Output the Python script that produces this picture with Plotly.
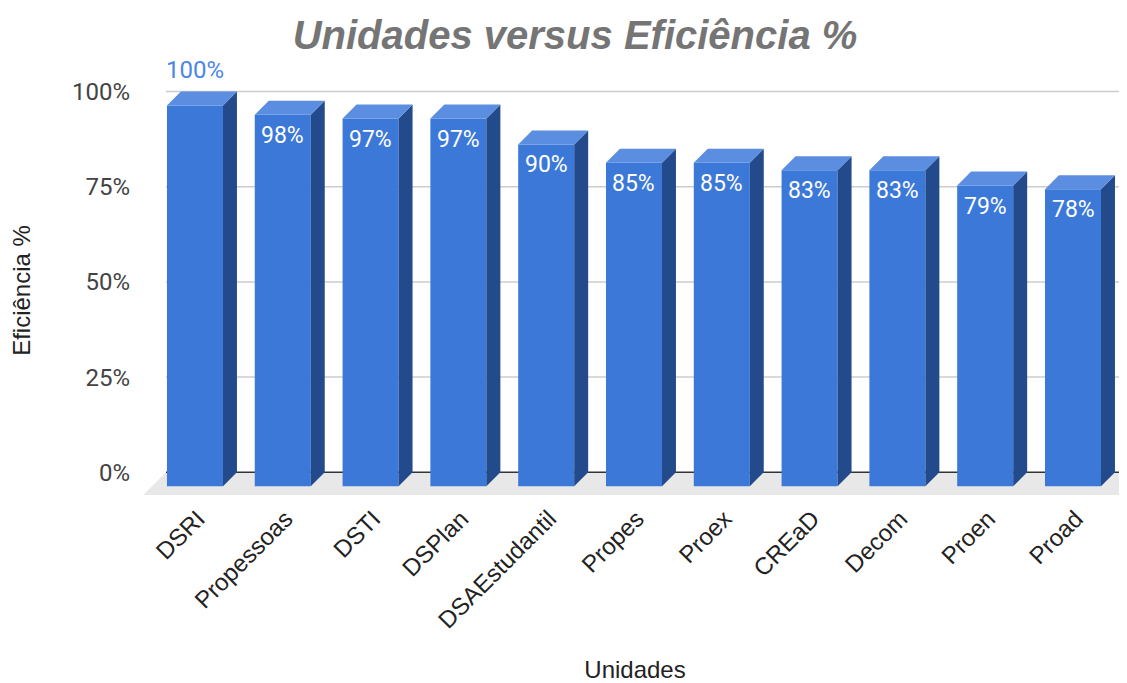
import plotly.graph_objects as go

# ---- data ----
categories = ["DSRI", "Propessoas", "DSTI", "DSPlan", "DSAEstudantil", "Propes",
              "Proex", "CREaD", "Decom", "Proen", "Proad"]
efficiency = [1.00, 0.976, 0.966, 0.966, 0.898, 0.85, 0.85, 0.83, 0.83, 0.79, 0.78]
y_ticks = [0, 0.25, 0.5, 0.75, 1.0]
y_tick_labels = ["0%", "25%", "50%", "75%", "100%"]

# ---- style / geometry (pseudo-3D) ----
FRONT = "#3c78d8"
TOP = "#5b8ee0"
SIDE = "#234a8a"
BAR_W = 0.638          # category units
DX = 0.159             # depth, x (category units)
DY = 0.0367            # depth, y (value units)
FLOOR_DX = 0.262
FLOOR_DY = 0.060
X_RANGE = [-0.592, 10.615]
Y_RANGE = [-0.065, 1.02]
ARIAL = "Liberation Sans, Arial"

xs = list(range(len(categories)))

fig = go.Figure()
fig.add_trace(go.Bar(
    x=xs, y=efficiency, base=-DY, width=BAR_W,
    marker=dict(color=FRONT, line=dict(width=0)),
    hoverinfo="skip",
))

shapes = []
back_left = X_RANGE[0] + FLOOR_DX
# floor
shapes.append(dict(type="path", xref="x", yref="y", layer="below",
                   path=f"M{back_left},0 L{X_RANGE[1]},0 L{X_RANGE[1]-0.05},{-FLOOR_DY} "
                        f"L{X_RANGE[0]},{-FLOOR_DY} Z",
                   fillcolor="#e8e8e8", line=dict(width=0)))
# gridlines
for t in y_ticks:
    shapes.append(dict(type="line", xref="x", yref="y", layer="below",
                       x0=back_left, x1=X_RANGE[1], y0=t, y1=t,
                       line=dict(color="#333333" if t == 0 else "#cccccc", width=1.5)))
# 3D faces
for x, v in zip(xs, efficiency):
    l, r = x - BAR_W / 2, x + BAR_W / 2
    top_f = v - DY
    shapes.append(dict(type="path", xref="x", yref="y", layer="above",
                       path=f"M{r},{-DY} L{r},{top_f} L{r+DX},{v} L{r+DX},0 Z",
                       fillcolor=SIDE, line=dict(width=0)))
    shapes.append(dict(type="path", xref="x", yref="y", layer="above",
                       path=f"M{l},{top_f} L{r},{top_f} L{r+DX},{v} L{l+DX},{v} Z",
                       fillcolor=TOP, line=dict(width=0)))

# data labels
annotations = []
for i, (x, v) in enumerate(zip(xs, efficiency)):
    txt = f"{round(v*100)}%"
    if i == 0:
        annotations.append(dict(x=x, y=v, xref="x", yref="y", text=txt, showarrow=False,
                                yanchor="middle", yshift=22,
                                font=dict(family="Roboto", size=24, color="#4a86e8")))
    else:
        annotations.append(dict(x=x, y=v - DY, xref="x", yref="y", text=txt, showarrow=False,
                                yanchor="top", yshift=-5,
                                font=dict(family="Roboto", size=23, color="white")))

fig.update_layout(
    width=1119, height=675,
    margin=dict(l=135, r=0, t=76, b=186),
    plot_bgcolor="white", paper_bgcolor="white",
    showlegend=False,
    shapes=shapes,
    title=dict(text="<b><i>Unidades versus Eficiência %</i></b>",
               x=0.5067, xanchor="center", y=0.96, yanchor="middle",
               font=dict(family=ARIAL, size=40, color="#757575")),
    xaxis=dict(range=X_RANGE, tickmode="array", tickvals=xs, ticktext=categories,
               tickangle=-45, showgrid=False, zeroline=False, showline=False,
               ticks="", ticklabelshift=3, ticklabelstandoff=2,
               tickfont=dict(family=ARIAL, size=24, color="#222222"),
               title=dict(text="Unidades", standoff=31,
                          font=dict(family=ARIAL, size=24, color="#222222"))),
    yaxis=dict(range=Y_RANGE, tickmode="array", tickvals=y_ticks, ticktext=y_tick_labels,
               showgrid=False, zeroline=False, showline=False, ticks="",
               ticklabelstandoff=12,
               tickfont=dict(family="Roboto", size=24, color="#444444"),
               title=dict(text="Eficiência %", standoff=38,
                          font=dict(family=ARIAL, size=24, color="#222222"))),
    annotations=annotations,
)

fig.write_html("out.html")
